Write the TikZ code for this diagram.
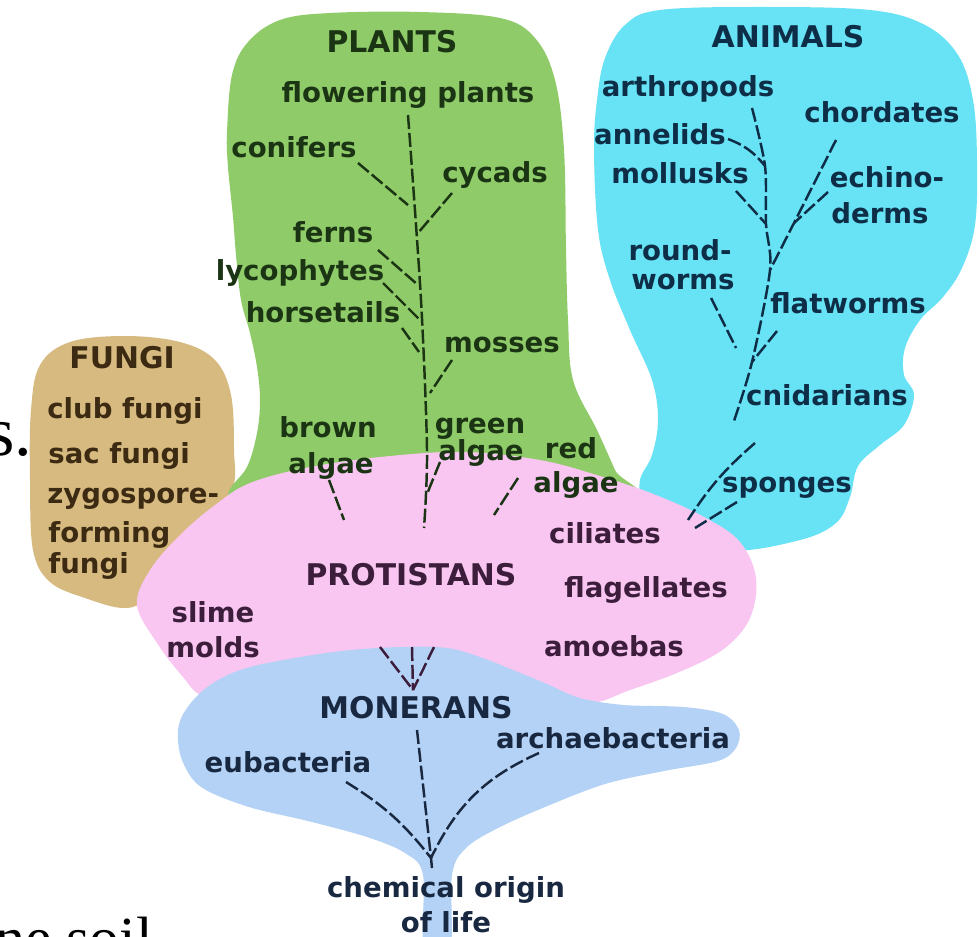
\documentclass[tikz,border=0pt]{standalone}
\usepackage{fontspec}
\setsansfont{DejaVu Sans}
\newfontfamily\slidefont{Liberation Serif}
\usepackage{tikz}
\definecolor{fungibg}{RGB}{214,186,128}
\definecolor{plantbg}{RGB}{143,203,104}
\definecolor{animbg}{RGB}{104,226,245}
\definecolor{protbg}{RGB}{248,198,240}
\definecolor{monbg}{RGB}{180,210,245}
\definecolor{plantink}{RGB}{27,52,20}
\definecolor{animink}{RGB}{14,45,70}
\definecolor{protink}{RGB}{60,30,60}
\definecolor{monink}{RGB}{25,40,65}
\definecolor{fungink}{RGB}{60,42,18}

\begin{document}
\begin{tikzpicture}[x=0.02cm, y=-0.02cm,
  lbl/.style={inner sep=0pt, anchor=base, font=\sffamily\bfseries\fontsize{15.7}{18}\selectfont},
  kingdom/.style={font=\sffamily\bfseries\fontsize{17}{20}\selectfont},
  plantlbl/.style={lbl, text=plantink},
  animlbl/.style={lbl, text=animink},
  protlbl/.style={lbl, text=protink},
  monlbl/.style={lbl, text=monink},
  fungilbl/.style={lbl, text=fungink, anchor=base west},
  slidetxt/.style={inner sep=0pt, anchor=base west, text=black},
  branch/.style={line width=1.4pt, dash pattern=on 8pt off 2.2pt}
]
  \useasboundingbox (0,0) rectangle (979,936);
  \clip (0,0) rectangle (979,936);
  \fill[white] (0,0) rectangle (979,936);

  % kingdoms
  \fill[fungibg] plot[smooth cycle, tension=0.6] coordinates {(40,365) (70,342) (125,336) (180,342) (215,360) (231,395) (234,450) (232,490) (200,540) (150,595) (125,608) (85,598) (50,582) (33,550) (30,480) (31,410)};
  \fill[plantbg] plot[smooth cycle, tension=0.6] coordinates {(232,75) (227,133) (228,167) (233,217) (236,255) (241,300) (250,333) (257,367) (260,400) (257,433) (247,467) (228,495) (240,530) (420,535) (630,505) (615,470) (597,430) (573,380) (568,320) (566,250) (564,150) (555,80) (535,38) (500,18) (420,12) (330,13) (280,20) (248,42)};
  \fill[animbg] plot[smooth cycle, tension=0.6] coordinates {(597,100) (605,58) (625,25) (660,10) (760,7) (870,10) (925,25) (958,55) (973,100) (977,160) (975,225) (962,268) (943,297) (920,320) (905,348) (904,375) (914,395) (904,425) (880,445) (858,466) (850,497) (836,523) (800,540) (730,550) (680,525) (645,500) (640,480) (652,455) (658,420) (652,380) (630,330) (610,280) (598,230) (594,150)};
  \fill[protbg] plot[smooth cycle, tension=0.6] coordinates {(137,605) (150,570) (180,535) (215,505) (250,483) (310,467) (390,456) (465,452) (540,460) (600,476) (656,495) (706,518) (740,542) (756,578) (750,618) (725,648) (684,670) (630,690) (580,705) (450,712) (260,705) (205,697) (183,677) (157,643)};
  \fill[monbg] plot[smooth cycle, tension=0.55] coordinates {(187,708) (210,685) (250,667) (333,652) (400,647) (447,648) (480,657) (513,670) (547,684) (580,698) (624,705) (684,707) (723,714) (739,730) (736,748) (718,761) (664,771) (605,784) (545,807) (498,828) (466,848) (452,875) (450,950) (424,950) (423,875) (405,853) (367,837) (308,821) (249,807) (201,787) (182,760) (178,730)};

  \node[slidetxt, font=\slidefont\fontsize{40}{48}\selectfont] (sfrag) at (-13,455) {s.};
  \node[slidetxt, font=\slidefont\fontsize{34}{40}\selectfont] (soilfrag) at (-5,958) {ne soil};

  \node[plantlbl, kingdom] (plants) at (392,53) {PLANTS};
  \node[plantlbl] (flowering) at (408,102) {flowering plants};
  \node[plantlbl] (conifers) at (294,157) {conifers};
  \node[plantlbl] (cycads) at (495,182) {cycads};
  \node[plantlbl] (ferns) at (333,242) {ferns};
  \node[plantlbl] (lycophytes) at (300,280) {lycophytes};
  \node[plantlbl] (horsetails) at (323,322) {horsetails};
  \node[plantlbl] (mosses) at (502,352) {mosses};
  \node[plantlbl] (brown) at (328,437) {brown};
  \node[plantlbl] (brownalgae) at (331,473) {algae};
  \node[plantlbl] (green) at (480,433) {green};
  \node[plantlbl] (greenalgae) at (481,460) {algae};
  \node[plantlbl] (red) at (571,458) {red};
  \node[plantlbl] (redalgae) at (576,492) {algae};

  \node[animlbl, kingdom] (animals) at (788,48) {ANIMALS};
  \node[animlbl] (arthropods) at (688,96) {arthropods};
  \node[animlbl] (chordates) at (882,122) {chordates};
  \node[animlbl] (annelids) at (660,144) {annelids};
  \node[animlbl] (mollusks) at (680,183) {mollusks};
  \node[animlbl] (echino) at (887,187) {echino-};
  \node[animlbl] (derms) at (880,223) {derms};
  \node[animlbl] (round) at (680,260) {round-};
  \node[animlbl] (worms) at (683,289) {worms};
  \node[animlbl] (flatworms) at (848,313) {flatworms};
  \node[animlbl] (cnidarians) at (827,405) {cnidarians};
  \node[animlbl] (sponges) at (787,492) {sponges};

  \node[fungilbl, kingdom, anchor=base] (fungi) at (122,368) {FUNGI};
  \node[fungilbl] (clubfungi) at (47,418) {club fungi};
  \node[fungilbl] (sacfungi) at (48,463) {sac fungi};
  \node[fungilbl] (zygo) at (47,503) {zygospore-};
  \node[fungilbl] (forming) at (48,542) {forming};
  \node[fungilbl] (fungiend) at (48,573) {fungi};

  \node[protlbl, kingdom] (protistans) at (411,585) {PROTISTANS};
  \node[protlbl] (ciliates) at (605,543) {ciliates};
  \node[protlbl] (flagellates) at (646,597) {flagellates};
  \node[protlbl] (amoebas) at (614,656) {amoebas};
  \node[protlbl] (slime) at (213,622) {slime};
  \node[protlbl] (molds) at (213,657) {molds};

  \node[monlbl, kingdom] (monerans) at (416,718) {MONERANS};
  \node[monlbl] (eubact) at (288,772) {eubacteria};
  \node[monlbl] (archaebact) at (613,748) {archaebacteria};
  \node[monlbl] (chemorigin) at (446,897) {chemical origin};
  \node[monlbl] (oflife) at (446,932) {of life};

  % branch points
  \coordinate (ptop) at (408,115);
  \coordinate (pmid) at (421,300);
  \coordinate (pdown) at (427,450);
  \coordinate (pbot) at (424,528);
  \coordinate (conif-a) at (358,163);  \coordinate (conif-b) at (408,205);
  \coordinate (cyc-a) at (452,193);    \coordinate (cyc-b) at (418,233);
  \coordinate (fern-a) at (378,250);   \coordinate (fern-b) at (418,285);
  \coordinate (lyco-a) at (383,283);   \coordinate (lyco-b) at (420,320);
  \coordinate (hors-a) at (402,328);   \coordinate (hors-b) at (419,352);
  \coordinate (moss-a) at (452,360);   \coordinate (moss-b) at (430,393);
  \coordinate (bral-a) at (329,480);   \coordinate (bral-b) at (344,520);
  \coordinate (gral-a) at (440,462);   \coordinate (gral-b) at (427,494);
  \coordinate (real-a) at (518,478);   \coordinate (real-b) at (494,515);

  \coordinate (arth-a) at (752,108);   \coordinate (aj1) at (765,166);
  \coordinate (ann-a) at (728,139);
  \coordinate (moll-a) at (736,191);   \coordinate (aj2) at (766,224);
  \coordinate (aj3) at (770,270);      \coordinate (aj5) at (752,362);
  \coordinate (cnid-b) at (733,424);
  \coordinate (chord-a) at (836,140);  \coordinate (aj4) at (794,223);
  \coordinate (echi-a) at (828,192);
  \coordinate (rw-a) at (711,298);     \coordinate (rw-b) at (736,348);
  \coordinate (flat-a) at (777,331);
  \coordinate (spa-a) at (755,443);    \coordinate (spa-b) at (688,520);
  \coordinate (spb-a) at (737,502);    \coordinate (spb-b) at (695,528);

  \coordinate (pm-l) at (380,647);     \coordinate (pm-m) at (412,647);
  \coordinate (pm-r) at (434,647);     \coordinate (pm-j) at (413,690);
  \coordinate (m-top) at (417,730);    \coordinate (m-root) at (431,858);
  \coordinate (m-eu) at (346,782);     \coordinate (m-arch) at (539,753);
  \coordinate (m-tail) at (432,868);

  \draw[branch, plantink] plot[smooth] coordinates {(ptop) (pmid) (pdown) (pbot)};
  \draw[branch, plantink] (conif-a) -- (conif-b);
  \draw[branch, plantink] (cyc-a) -- (cyc-b);
  \draw[branch, plantink] (fern-a) -- (fern-b);
  \draw[branch, plantink] (lyco-a) -- (lyco-b);
  \draw[branch, plantink] (hors-a) -- (hors-b);
  \draw[branch, plantink] (moss-a) -- (moss-b);
  \draw[branch, plantink] (bral-a) -- (bral-b);
  \draw[branch, plantink] (gral-a) -- (gral-b);
  \draw[branch, plantink] (real-a) -- (real-b);

  \draw[branch, animink] plot[smooth] coordinates {(arth-a) (aj1) (aj2) (aj3) (aj5) (cnid-b)};
  \draw[branch, animink] (ann-a) to[bend left=15] (aj1);
  \draw[branch, animink] (moll-a) -- (aj2);
  \draw[branch, animink] plot[smooth] coordinates {(chord-a) (aj4) (aj3)};
  \draw[branch, animink] (echi-a) -- (aj4);
  \draw[branch, animink] (rw-a) -- (rw-b);
  \draw[branch, animink] (flat-a) -- (aj5);
  \draw[branch, animink] (spa-a) to[bend right=8] (spa-b);
  \draw[branch, animink] (spb-a) -- (spb-b);

  \draw[branch, protink] (pm-l) -- (pm-j);
  \draw[branch, protink] (pm-m) -- (pm-j);
  \draw[branch, protink] (pm-r) -- (pm-j);

  \draw[branch, monink] (m-top) -- (m-root);
  \draw[branch, monink] (m-eu) to[bend left=10] (m-root);
  \draw[branch, monink] (m-arch) to[bend right=20] (m-root);
  \draw[branch, monink] (m-root) -- (m-tail);
\end{tikzpicture}
\end{document}
